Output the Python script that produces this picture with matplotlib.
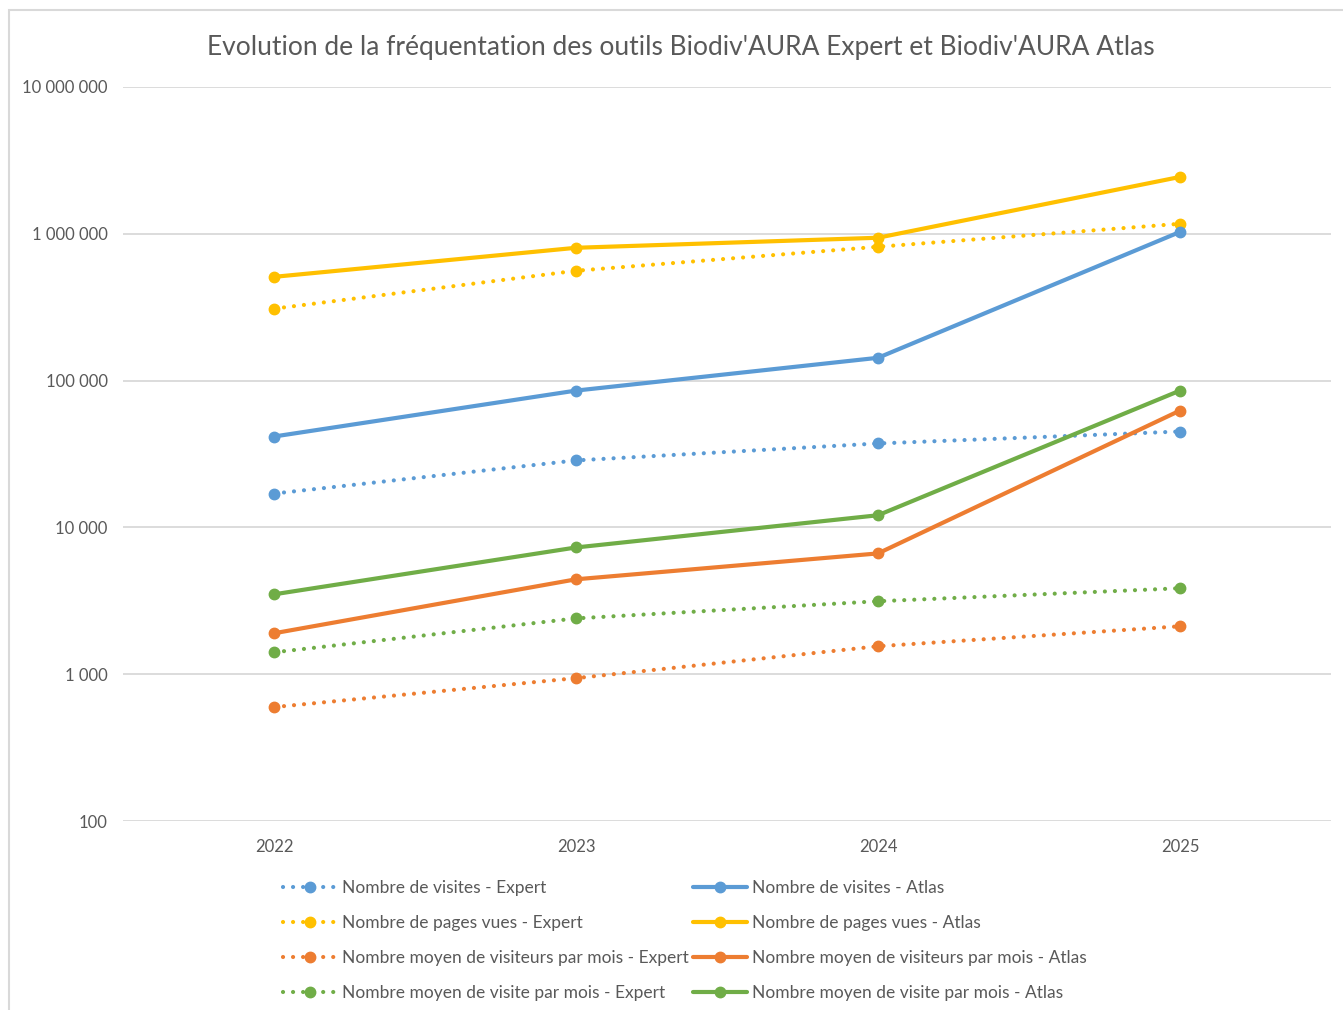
import matplotlib.pyplot as plt
from matplotlib.patches import Rectangle
from matplotlib.ticker import FixedLocator, FuncFormatter, NullLocator

plt.rcParams['font.family'] = ['Lato', 'DejaVu Sans']

# données
annees = ['2022', '2023', '2024', '2025']

visites_expert = [17000, 28600, 37300, 45000]
pages_expert = [309000, 560000, 816000, 1170000]
visiteurs_mois_expert = [597, 940, 1550, 2120]
visite_mois_expert = [1410, 2400, 3140, 3850]

visites_atlas = [41600, 85500, 143000, 1030000]
pages_atlas = [509000, 803000, 940000, 2440000]
visiteurs_mois_atlas = [1900, 4430, 6650, 62500]
visite_mois_atlas = [3500, 7300, 12100, 85500]

BLEU = '#5B9BD5'
JAUNE = '#FFC000'
ORANGE = '#ED7D31'
VERT = '#70AD47'
GRIS = '#595959'

W, H = 1343, 1010
fig = plt.figure(figsize=(W / 100, H / 100), dpi=100)
fig.patches.append(Rectangle((9 / W, -0.01), 1.05, 1 - 10 / H + 0.01, transform=fig.transFigure,
                             fill=False, edgecolor='#d9d9d9', linewidth=1.5))

ax = fig.add_axes([123 / W, 1 - 821 / H, (1331 - 123) / W, (821 - 87) / H])
x = range(len(annees))

dot = (0, (0.01, 2.4))
expert = [
    (visites_expert, BLEU, 'Nombre de visites - Expert'),
    (pages_expert, JAUNE, 'Nombre de pages vues - Expert'),
    (visiteurs_mois_expert, ORANGE, 'Nombre moyen de visiteurs par mois - Expert'),
    (visite_mois_expert, VERT, 'Nombre moyen de visite par mois - Expert'),
]
atlas = [
    (visites_atlas, BLEU, 'Nombre de visites - Atlas'),
    (pages_atlas, JAUNE, 'Nombre de pages vues - Atlas'),
    (visiteurs_mois_atlas, ORANGE, 'Nombre moyen de visiteurs par mois - Atlas'),
    (visite_mois_atlas, VERT, 'Nombre moyen de visite par mois - Atlas'),
]

for vals, c, lab in expert:
    ax.plot(x, vals, color=c, linestyle=dot, linewidth=3, dash_capstyle='round',
            marker='o', markersize=7.5, label=lab, zorder=3)
for vals, c, lab in atlas:
    ax.plot(x, vals, color=c, linestyle='-', linewidth=3, solid_capstyle='round',
            marker='o', markersize=7.5, label=lab, zorder=3)

ax.set_yscale('log')
ax.set_ylim(100, 1e7)
ax.set_xlim(-0.5, 3.5)
ax.set_xticks(list(x))
ax.set_xticklabels(annees)
ax.yaxis.set_major_locator(FixedLocator([1e2, 1e3, 1e4, 1e5, 1e6, 1e7]))
ax.yaxis.set_minor_locator(NullLocator())
ax.yaxis.set_major_formatter(FuncFormatter(lambda v, p: f'{int(round(v)):,}'.replace(',', ' ')))
ax.grid(axis='y', color='#d9d9d9', linewidth=1.3)
ax.set_axisbelow(True)
for s in ax.spines.values():
    s.set_visible(False)
ax.tick_params(axis='both', length=0, labelsize=12, labelcolor=GRIS)
ax.tick_params(axis='y', pad=11)
ax.tick_params(axis='x', pad=13)

fig.text(681 / W, 1 - 47 / H, "Evolution de la fréquentation des outils Biodiv'AURA Expert et Biodiv'AURA Atlas",
         ha='center', va='center', fontsize=19, color=GRIS)

leg = ax.legend(loc='upper center', bbox_to_anchor=(0.465, -0.059), ncol=2, frameon=False,
                fontsize=12.5, handlelength=3.1, handletextpad=0.3, columnspacing=0.25,
                labelspacing=1.1, numpoints=1, labelcolor=GRIS)

fig.savefig('out.png', dpi=100)
